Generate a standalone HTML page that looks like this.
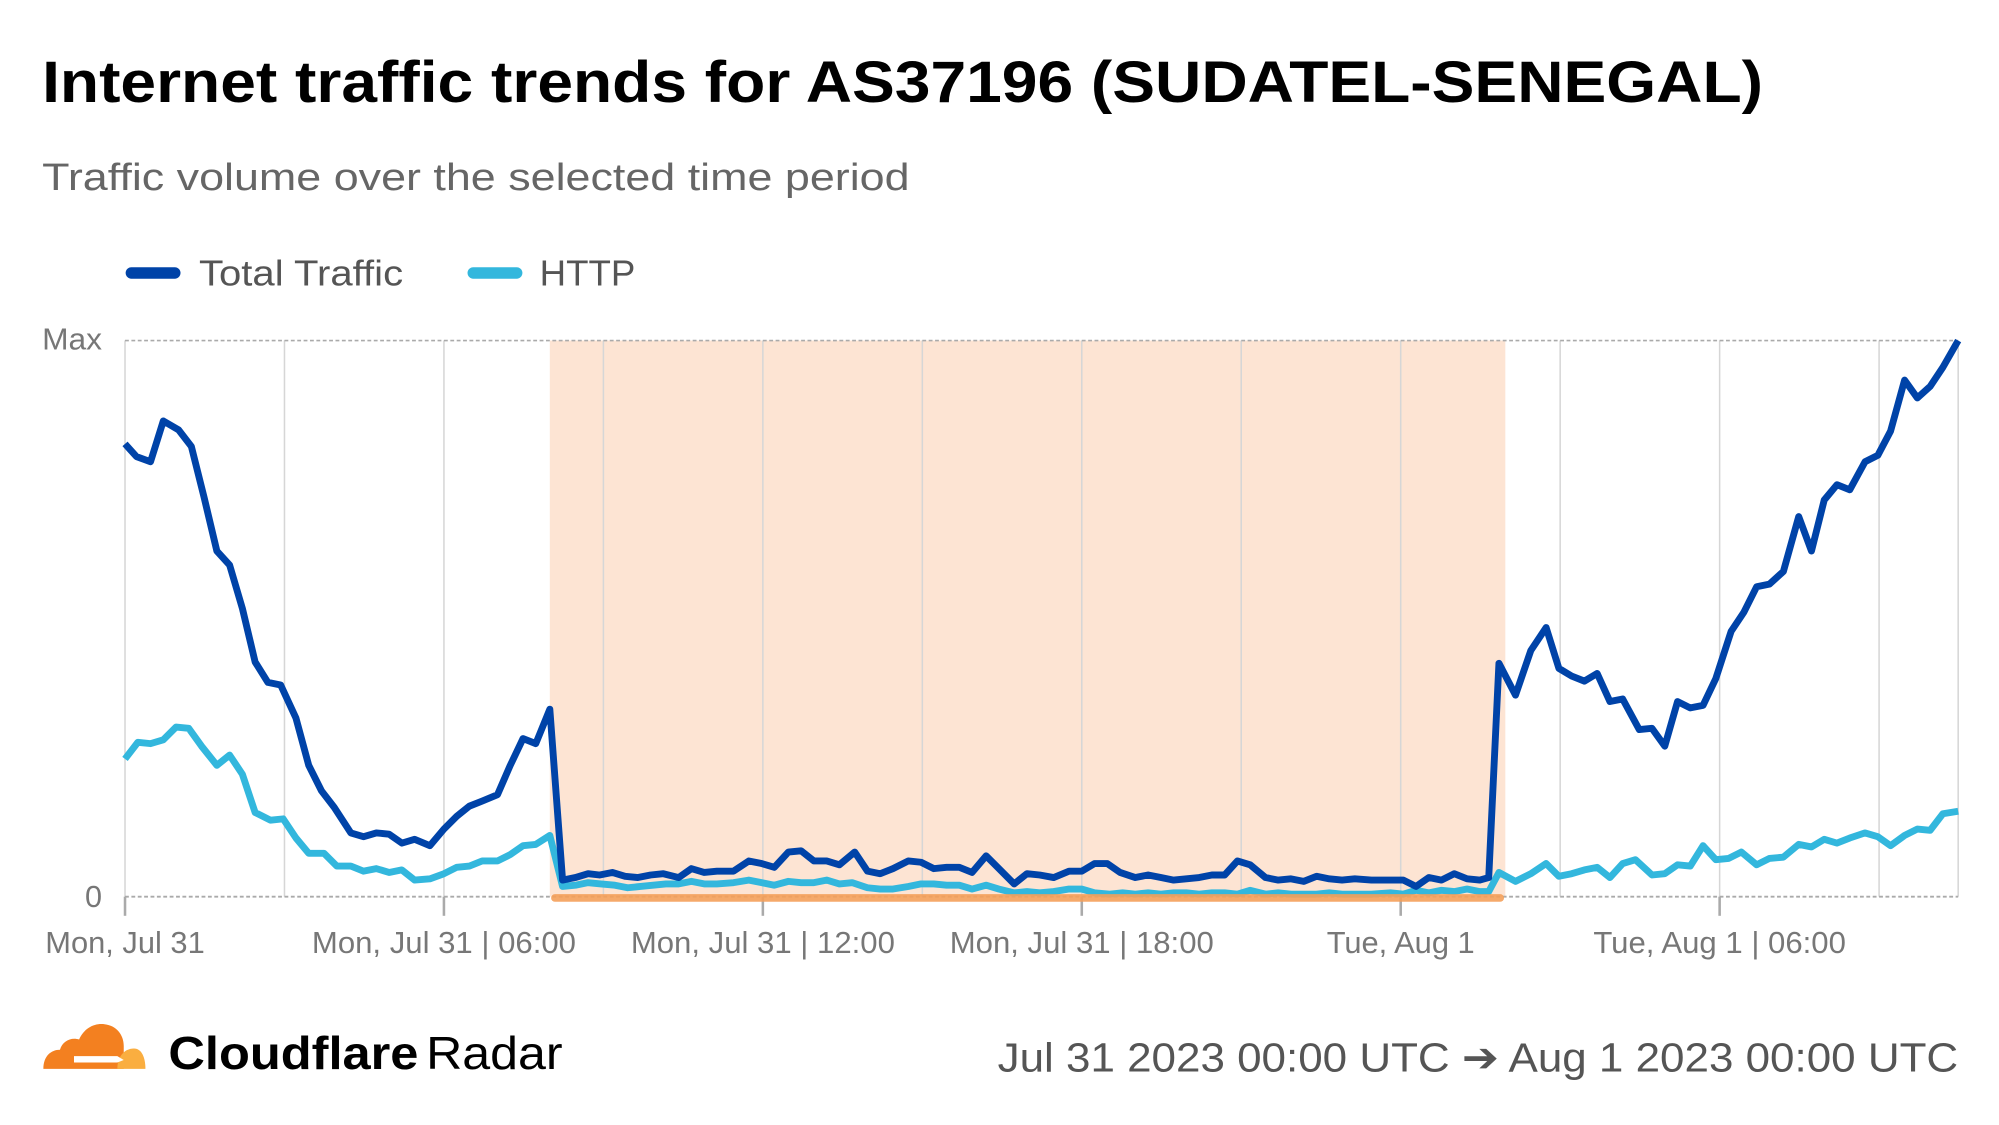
<!DOCTYPE html>
<html><head><meta charset="utf-8"><style>
html,body{margin:0;padding:0;background:#fff;}
svg{display:block;}
text{font-family:"Liberation Sans",Arial,sans-serif;}
</style></head><body>
<svg width="1999" height="1125" viewBox="0 0 1567 882" preserveAspectRatio="none" xmlns="http://www.w3.org/2000/svg">
<rect width="1567" height="882" fill="#fff"/>
<text x="33" y="80" font-size="46" font-weight="bold" fill="#000" textLength="1349" lengthAdjust="spacingAndGlyphs">Internet traffic trends for AS37196 (SUDATEL-SENEGAL)</text>
<text x="33" y="149" font-size="30" fill="#666" textLength="680" lengthAdjust="spacingAndGlyphs">Traffic volume over the selected time period</text>
<line x1="103" y1="214" x2="137" y2="214" stroke="#0043a8" stroke-width="9" stroke-linecap="round"/>
<text x="156" y="224" font-size="28" fill="#555" textLength="160" lengthAdjust="spacingAndGlyphs">Total Traffic</text>
<line x1="371" y1="214" x2="405" y2="214" stroke="#33b7dd" stroke-width="9" stroke-linecap="round"/>
<text x="423" y="224" font-size="28" fill="#555" textLength="75" lengthAdjust="spacingAndGlyphs">HTTP</text>
<rect x="431" y="267" width="749" height="436" fill="#fde4d3"/>
<g stroke="#d6d6d6" stroke-width="1.2">
<line x1="98" y1="267" x2="98" y2="703"/><line x1="223" y1="267" x2="223" y2="703"/><line x1="348" y1="267" x2="348" y2="703"/><line x1="473" y1="267" x2="473" y2="703"/><line x1="598" y1="267" x2="598" y2="703"/><line x1="723" y1="267" x2="723" y2="703"/><line x1="848" y1="267" x2="848" y2="703"/><line x1="973" y1="267" x2="973" y2="703"/><line x1="1098" y1="267" x2="1098" y2="703"/><line x1="1223" y1="267" x2="1223" y2="703"/><line x1="1348" y1="267" x2="1348" y2="703"/><line x1="1473" y1="267" x2="1473" y2="703"/><line x1="1535" y1="267" x2="1535" y2="703"/>
</g>
<line x1="98" y1="267" x2="1535" y2="267" stroke="#aaa" stroke-width="1.3" stroke-dasharray="3,2"/>
<line x1="98" y1="703" x2="1535" y2="703" stroke="#aaa" stroke-width="1.5" stroke-dasharray="3,2"/>
<g stroke="#aaa" stroke-width="2"><line x1="98" y1="703" x2="98" y2="718"/><line x1="348" y1="703" x2="348" y2="718"/><line x1="598" y1="703" x2="598" y2="718"/><line x1="848" y1="703" x2="848" y2="718"/><line x1="1098" y1="703" x2="1098" y2="718"/><line x1="1348" y1="703" x2="1348" y2="718"/></g>
<text x="80" y="274" font-size="24" fill="#777" text-anchor="end" textLength="47" lengthAdjust="spacingAndGlyphs">Max</text>
<text x="80" y="711" font-size="24" fill="#777" text-anchor="end">0</text>
<g font-size="24" fill="#777" text-anchor="middle">
<text x="98" y="747" textLength="125" lengthAdjust="spacingAndGlyphs">Mon, Jul 31</text><text x="348" y="747" textLength="207" lengthAdjust="spacingAndGlyphs">Mon, Jul 31 | 06:00</text><text x="598" y="747" textLength="207" lengthAdjust="spacingAndGlyphs">Mon, Jul 31 | 12:00</text><text x="848" y="747" textLength="207" lengthAdjust="spacingAndGlyphs">Mon, Jul 31 | 18:00</text><text x="1098" y="747" textLength="116" lengthAdjust="spacingAndGlyphs">Tue, Aug 1</text><text x="1348" y="747" textLength="198" lengthAdjust="spacingAndGlyphs">Tue, Aug 1 | 06:00</text>
</g>
<polyline fill="none" stroke="#33b7dd" stroke-width="5.4" stroke-linejoin="round" points="98,595 108,582 118,583 128,580 138,570 148,571 158,585 170,600 180,592 190,607 200,637 212,643 222,642 232,657 242,669 254,669 264,679 275,679 285,683 295,681 305,684 315,682 325,690 337,689 348,685 358,680 368,679 378,675 390,675 400,670 410,663 420,662 431,655 441,695 451,694 461,692 471,693 482,694 492,696 502,695 512,694 522,693 532,693 542,691 552,693 562,693 575,692 587,690 597,692 607,694 618,691 628,692 638,692 648,690 658,693 668,692 680,696 690,697 700,697 712,695 722,693 732,693 742,694 752,694 762,697 773,694 783,697 795,700 805,699 815,700 826,699 838,697 848,697 858,700 870,701 880,700 890,701 900,700 910,701 920,700 930,700 940,701 950,700 960,700 970,701 980,698 992,701 1002,700 1012,701 1022,701 1032,701 1042,700 1052,701 1062,701 1075,701 1090,700 1100,701 1110,698 1120,700 1130,698 1140,699 1150,697 1160,699 1167,699 1175,684 1188,691 1200,685 1212,677 1222,687 1232,685 1242,682 1252,680 1262,688 1272,677 1282,674 1295,686 1305,685 1315,678 1325,679 1335,663 1345,674 1355,673 1365,668 1377,678 1387,673 1398,672 1410,662 1420,664 1430,658 1440,661 1450,657 1462,653 1472,656 1482,663 1493,655 1503,650 1513,651 1523,638 1535,636"/>
<polyline fill="none" stroke="#0043a8" stroke-width="5.4" stroke-linejoin="round" points="98,348 107,358 118,362 128,330 140,337 150,350 160,390 170,432 180,443 190,477 200,519 210,535 220,537 232,563 242,600 252,620 262,633 275,653 285,656 295,653 305,654 315,661 325,658 337,663 348,650 358,640 368,632 378,628 390,623 400,600 410,579 420,583 431,556 441,690 451,688 461,685 470,686 480,684 490,687 500,688 510,686 520,685 532,688 542,681 552,684 562,683 575,683 587,675 597,677 607,680 618,668 628,667 638,675 648,675 658,678 670,668 680,683 690,685 700,681 712,675 722,676 732,681 742,680 752,680 762,684 773,671 783,681 795,693 805,685 815,686 826,688 838,683 848,683 858,677 868,677 878,684 890,688 900,686 910,688 920,690 930,689 940,688 950,686 960,686 970,675 980,678 992,688 1002,690 1012,689 1022,691 1032,687 1042,689 1052,690 1062,689 1075,690 1090,690 1100,690 1110,695 1120,688 1130,690 1140,685 1150,689 1160,690 1167,688 1175,520 1188,545 1200,510 1212,492 1222,524 1232,530 1242,534 1252,528 1262,550 1272,548 1285,572 1295,571 1305,585 1315,550 1325,555 1335,553 1345,532 1357,495 1367,480 1377,460 1387,458 1398,448 1410,405 1420,432 1430,392 1440,380 1450,384 1462,362 1472,357 1482,338 1493,298 1503,312 1513,303 1523,288 1535,267"/>
<line x1="435" y1="704" x2="1176" y2="704" stroke="#f5a05a" stroke-width="6" stroke-linecap="round" opacity="0.9"/>
<path d="M34,838 C34,828 40,823 47,823 C49,816 56,813 62,815 C66,806 74,802 82,803 C91,804 97,811 97,820 L97,838 Z" fill="#f38020"/>
<path d="M92,838 C92,828 98,822 105,822 C111,822 114,829 114,838 Z" fill="#faae40"/>
<path d="M58,828 L92,828 L97,831 L92,833 L58,833 Z" fill="#fff"/>
<text x="132" y="838" font-size="36" font-weight="bold" fill="#000" textLength="196" lengthAdjust="spacingAndGlyphs">Cloudflare</text>
<text x="334" y="838" font-size="36" fill="#000" textLength="107" lengthAdjust="spacingAndGlyphs">Radar</text>
<text x="1535" y="840" font-size="32" fill="#555" text-anchor="end" textLength="753" lengthAdjust="spacingAndGlyphs">Jul 31 2023 00:00 UTC ➔ Aug 1 2023 00:00 UTC</text>
</svg>
</body></html>
